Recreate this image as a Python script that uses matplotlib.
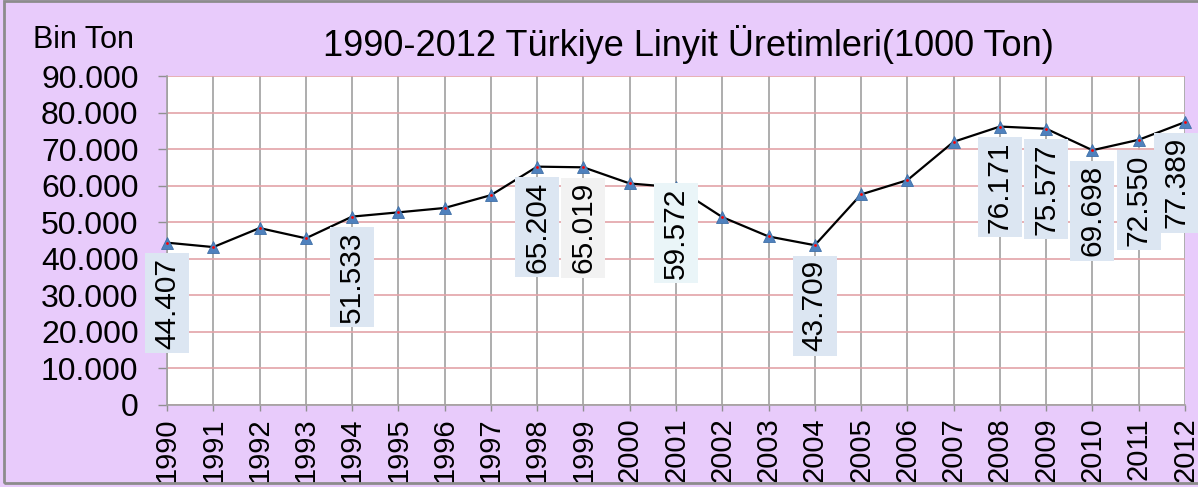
import numpy as np

import matplotlib
matplotlib.use('agg')

from matplotlib import pyplot as plt
from matplotlib.patches import Rectangle

plt.rcParams['font.family'] = ['Liberation Sans', 'DejaVu Sans']

years = list(range(1990, 2013))
# 1000 ton
uretim = [44407, 43200, 48400, 45600, 51533, 52700, 53900, 57400, 65204, 65019,
          60600, 59572, 51400, 46100, 43709, 57600, 61500, 72000, 76171, 75577,
          69698, 72550, 77389]

label_years = [1990, 1994, 1998, 1999, 2001, 2004, 2008, 2009, 2010, 2011, 2012]

# label box tweaks (pixels): shift down from the point, shift in x, colour
box_drop = {2001: -4}
box_shift = {2012: -9}
box_color = {1999: '#F2F2F2', 2001: '#EAF5F8'}

bg = '#E8CBFB'

fig = plt.figure(figsize=(11.98, 4.87), dpi=100, facecolor=bg)
ax = fig.add_axes([167 / 1198, 1 - 405 / 487, (1185 - 167) / 1198, (405 - 76) / 487])
ax.set_facecolor('white')

ax.set_xlim(1990, 2012)
ax.set_ylim(0, 90000)
ax.set_xticks(years)
ax.set_xticklabels([str(y) for y in years], rotation=90, fontsize=21)
yt = np.arange(0, 90001, 10000)
ax.set_yticks(yt)
ax.set_yticklabels(['0' if v == 0 else '{:,}'.format(v).replace(',', '.') for v in yt], fontsize=23)

ax.grid(axis='y', color='#E3A3A8', linewidth=1.2)
ax.grid(axis='x', color='#A0A0A0', linewidth=1.2)
ax.set_axisbelow(True)
ax.tick_params(axis='y', length=6.5, width=1, color='#909090', pad=14)
ax.tick_params(axis='x', length=4, width=1, color='#909090', pad=5)
for s in ['top', 'right']:
    ax.spines[s].set_visible(False)
for s in ['left', 'bottom']:
    ax.spines[s].set_color('#A0A0A0')
    ax.spines[s].set_linewidth(1.2)

ax.plot(years, uretim, '-', color='black', linewidth=1.6, zorder=3)
ax.plot(years, uretim, '^', color='#4F81BD', markersize=8, markeredgecolor='#3F6FA8',
        markeredgewidth=0.6, zorder=4, clip_on=False)
ax.plot(years, uretim, '.', color='red', markersize=2, zorder=5, clip_on=False)

# pixels -> data units
px_x = 1 / ((1185 - 167) / 22)
px_y = 90000 / (405 - 76)
bw, bh = 44, 100
for y in label_years:
    v = uretim[years.index(y)]
    cx = y + box_shift.get(y, 0) * px_x
    top = v - box_drop.get(y, 10.5) * px_y
    ax.add_patch(Rectangle((cx - bw / 2 * px_x, top - bh * px_y), bw * px_x, bh * px_y,
                           facecolor=box_color.get(y, '#DCE6F2'), edgecolor='none',
                           zorder=6, clip_on=False))
    ax.text(cx, top - bh / 2 * px_y, '{:,}'.format(v).replace(',', '.'), rotation=90,
            ha='center', va='center', fontsize=21.5, zorder=7)

fig.text(688 / 1198, 1 - 56 / 487, '1990-2012 Türkiye Linyit Üretimleri(1000 Ton)',
         ha='center', va='baseline', fontsize=26)
fig.text(33 / 1198, 1 - 48 / 487, 'Bin Ton', ha='left', va='baseline', fontsize=22)

# outer border
fig.patches.append(Rectangle((4 / 1198, 4 / 487), 1.2, 1 - 5 / 487, transform=fig.transFigure,
                             facecolor='none', edgecolor='#8C8C8C', linewidth=2))

plt.savefig('out.png', dpi=100, facecolor=bg)
